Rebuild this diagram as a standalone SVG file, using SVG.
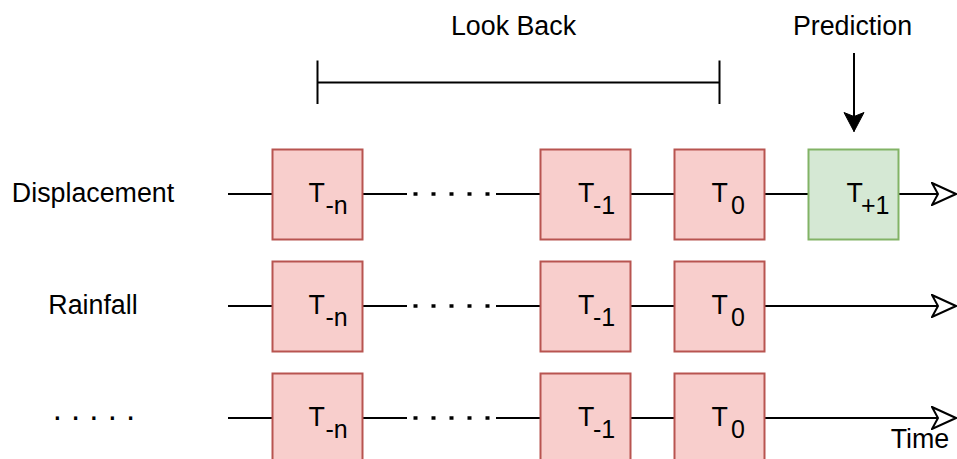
<svg xmlns="http://www.w3.org/2000/svg" width="957" height="459" viewBox="0 0 957 459">
  <style>
    .lbl { font-family: "Liberation Sans", Arial, Helvetica, sans-serif; font-size: 26.8px; fill: #000; }
    .sub { font-size: 25px; }
    .red { fill: #f8cecc; stroke: #b85450; stroke-width: 2; }
    .green { fill: #d5e8d4; stroke: #82b366; stroke-width: 2; }
    .ln { stroke: #000; stroke-width: 2; fill: none; }
    .dots { stroke: #000; stroke-width: 3.5; fill: none; stroke-dasharray: 4 14; }
    .time { marker-end: url(#openArrow); }
  </style>
  <defs>
    <!-- hollow classic arrowhead for the time axes -->
    <marker id="openArrow" markerUnits="userSpaceOnUse" viewBox="0 0 26 24" markerWidth="26" markerHeight="24" refX="25" refY="12" orient="auto">
      <path d="M1,1 L25,12 L1,23 L7,12 Z" fill="#fff" stroke="#000" stroke-width="2" stroke-linejoin="miter"/>
    </marker>
    <!-- filled classic arrowhead -->
    <marker id="solidArrow" markerUnits="userSpaceOnUse" viewBox="0 0 21 22" markerWidth="21" markerHeight="22" refX="20" refY="11" orient="auto">
      <path d="M1,1 L20,11 L1,21 L5,11 Z" fill="#000" stroke="#000" stroke-width="1"/>
    </marker>
  </defs>

  <rect width="957" height="459" fill="#fff"/>

  <!-- headings -->
  <g id="look-back">
    <text class="lbl" x="513.5" y="35" text-anchor="middle">Look Back</text>
    <path class="ln" d="M317.5,82.5 H719.5 M317.5,60.5 V104 M719.5,60.5 V104"/>
  </g>
  <g id="prediction">
    <text class="lbl" x="852.5" y="35" text-anchor="middle">Prediction</text>
  </g>

  <!-- row labels -->
  <g id="label-displacement"><text class="lbl" x="93" y="202" text-anchor="middle">Displacement</text></g>
  <g id="label-rainfall"><text class="lbl" x="93" y="314" text-anchor="middle">Rainfall</text></g>
  <g id="label-more"><text class="lbl" x="52.7" y="420" style="font-size:33px">. . . . .</text></g>
  <g id="label-time"><text class="lbl" x="920" y="448" text-anchor="middle">Time</text></g>

  <!-- connectors -->
  <g id="connectors">
    <line class="ln" x1="854" y1="53" x2="854" y2="131.5" marker-end="url(#solidArrow)"/>

    <!-- displacement row -->
    <line class="ln" x1="228" y1="194" x2="272.5" y2="194"/>
    <line class="ln" x1="362.5" y1="194" x2="407" y2="194"/>
    <line class="dots" x1="413.5" y1="194" x2="491.5" y2="194"/>
    <line class="ln" x1="496" y1="194" x2="540.5" y2="194"/>
    <line class="ln" x1="630.5" y1="194" x2="674.5" y2="194"/>
    <line class="ln" x1="764.5" y1="194" x2="808.5" y2="194"/>
    <line class="ln time" x1="898.5" y1="194" x2="956" y2="194"/>

    <!-- rainfall row -->
    <line class="ln" x1="228" y1="306" x2="272.5" y2="306"/>
    <line class="ln" x1="362.5" y1="306" x2="407" y2="306"/>
    <line class="dots" x1="413.5" y1="306" x2="491.5" y2="306"/>
    <line class="ln" x1="496" y1="306" x2="540.5" y2="306"/>
    <line class="ln" x1="630.5" y1="306" x2="674.5" y2="306"/>
    <line class="ln time" x1="764.5" y1="306" x2="956" y2="306"/>

    <!-- further rows -->
    <line class="ln" x1="228" y1="418" x2="272.5" y2="418"/>
    <line class="ln" x1="362.5" y1="418" x2="407" y2="418"/>
    <line class="dots" x1="413.5" y1="418" x2="491.5" y2="418"/>
    <line class="ln" x1="496" y1="418" x2="540.5" y2="418"/>
    <line class="ln" x1="630.5" y1="418" x2="674.5" y2="418"/>
    <line class="ln time" x1="764.5" y1="418" x2="956" y2="418"/>
  </g>

  <!-- displacement row nodes -->
  <g id="d-tn">
    <rect class="red" x="272.5" y="149.5" width="90" height="90"/>
    <text class="lbl" x="308.5" y="202">T<tspan class="sub" x="325.5" y="214">-n</tspan></text>
  </g>
  <g id="d-t1">
    <rect class="red" x="540.5" y="149.5" width="90" height="90"/>
    <text class="lbl" x="578" y="202">T<tspan class="sub" x="593" y="214">-1</tspan></text>
  </g>
  <g id="d-t0">
    <rect class="red" x="674.5" y="149.5" width="90" height="90"/>
    <text class="lbl" x="711.5" y="202">T<tspan class="sub" x="731" y="214">0</tspan></text>
  </g>
  <g id="d-tp1">
    <rect class="green" x="808.5" y="149.5" width="90" height="90"/>
    <text class="lbl" x="846.5" y="202">T<tspan class="sub" x="861" y="214">+1</tspan></text>
  </g>

  <!-- rainfall row nodes -->
  <g id="r-tn">
    <rect class="red" x="272.5" y="261.5" width="90" height="90"/>
    <text class="lbl" x="308.5" y="314">T<tspan class="sub" x="325.5" y="326">-n</tspan></text>
  </g>
  <g id="r-t1">
    <rect class="red" x="540.5" y="261.5" width="90" height="90"/>
    <text class="lbl" x="578" y="314">T<tspan class="sub" x="593" y="326">-1</tspan></text>
  </g>
  <g id="r-t0">
    <rect class="red" x="674.5" y="261.5" width="90" height="90"/>
    <text class="lbl" x="711.5" y="314">T<tspan class="sub" x="731" y="326">0</tspan></text>
  </g>

  <!-- further row nodes -->
  <g id="m-tn">
    <rect class="red" x="272.5" y="373.5" width="90" height="90"/>
    <text class="lbl" x="308.5" y="426">T<tspan class="sub" x="325.5" y="438">-n</tspan></text>
  </g>
  <g id="m-t1">
    <rect class="red" x="540.5" y="373.5" width="90" height="90"/>
    <text class="lbl" x="578" y="426">T<tspan class="sub" x="593" y="438">-1</tspan></text>
  </g>
  <g id="m-t0">
    <rect class="red" x="674.5" y="373.5" width="90" height="90"/>
    <text class="lbl" x="711.5" y="426">T<tspan class="sub" x="731" y="438">0</tspan></text>
  </g>
</svg>
